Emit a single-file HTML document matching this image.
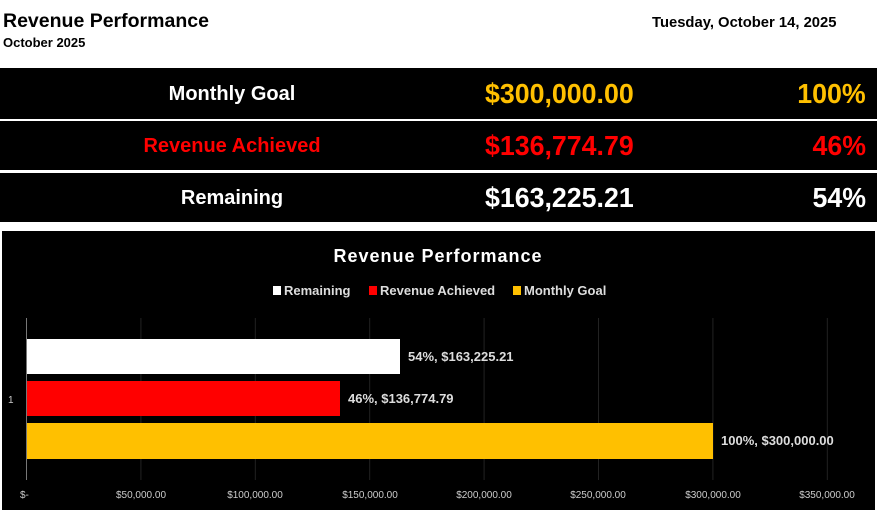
<!DOCTYPE html>
<html><head><style>
body{margin:0;width:877px;height:513px;background:#fff;position:relative;overflow:hidden;font-family:"Liberation Sans",Arial,sans-serif}
.a{position:absolute;white-space:nowrap;font-weight:bold}
.v{transform:scaleX(0.955);transform-origin:right center}
.row{position:absolute;left:0;width:877px;background:#000}
</style></head><body>
<div class="a" style="left:3px;top:10px;font-size:19.5px">Revenue Performance</div>
<div class="a" style="left:3px;top:35px;font-size:13px">October 2025</div>
<div class="a" style="left:652px;top:15px;font-size:14.8px">Tuesday, October 14, 2025</div>

<div class="row" style="top:68px;height:51px"></div>
<div class="row" style="top:121px;height:49px"></div>
<div class="row" style="top:173px;height:49px"></div>

<div class="a" style="left:132px;width:200px;text-align:center;top:83px;font-size:20px;color:#fff">Monthly Goal</div>
<div class="a v" style="right:243px;top:78px;font-size:28px;color:#ffc000">$300,000.00</div>
<div class="a v" style="right:11px;top:78px;font-size:28px;color:#ffc000">100%</div>

<div class="a" style="left:132px;width:200px;text-align:center;top:135px;font-size:20px;color:#f00">Revenue Achieved</div>
<div class="a v" style="right:243px;top:130px;font-size:28px;color:#f00">$136,774.79</div>
<div class="a v" style="right:11px;top:130px;font-size:28px;color:#f00">46%</div>

<div class="a" style="left:132px;width:200px;text-align:center;top:187px;font-size:20px;color:#fff">Remaining</div>
<div class="a v" style="right:243px;top:182px;font-size:28px;color:#fff">$163,225.21</div>
<div class="a v" style="right:11px;top:182px;font-size:28px;color:#fff">54%</div>

<svg style="position:absolute;left:0;top:0" width="877" height="513">
<rect x="2" y="231" width="873" height="279" fill="#000"/>
<text x="438" y="262" fill="#fff" font-size="18" font-weight="bold" text-anchor="middle" letter-spacing="1" font-family="Liberation Sans,sans-serif">Revenue Performance</text>
<g font-family="Liberation Sans,sans-serif" font-size="13" fill="#ddd" font-weight="bold">
<rect x="273" y="286" width="8" height="9" fill="#fff"/><text x="284" y="295">Remaining</text>
<rect x="369" y="286" width="8" height="9" fill="#f00"/><text x="380" y="295">Revenue Achieved</text>
<rect x="513" y="286" width="8" height="9" fill="#ffc000"/><text x="524" y="295">Monthly Goal</text>
</g>
<g stroke="#222" stroke-width="1">
<line x1="140.9" y1="318" x2="140.9" y2="480"/><line x1="255.3" y1="318" x2="255.3" y2="480"/>
<line x1="369.7" y1="318" x2="369.7" y2="480"/><line x1="484.1" y1="318" x2="484.1" y2="480"/>
<line x1="598.5" y1="318" x2="598.5" y2="480"/><line x1="712.9" y1="318" x2="712.9" y2="480"/>
<line x1="827.3" y1="318" x2="827.3" y2="480"/>
</g>
<line x1="26.5" y1="318" x2="26.5" y2="480" stroke="#777"/>
<rect x="27" y="339" width="373" height="35" fill="#fff"/>
<rect x="27" y="381" width="313" height="35" fill="#f00"/>
<rect x="27" y="423" width="686" height="36" fill="#ffc000"/>
<g font-family="Liberation Sans,sans-serif" font-size="13" fill="#ddd" font-weight="bold">
<text x="408" y="361">54%,  $163,225.21</text>
<text x="348" y="403">46%,  $136,774.79</text>
<text x="721" y="445">100%,  $300,000.00</text>
</g>
<text x="8" y="403" font-family="Liberation Sans,sans-serif" font-size="10" fill="#ccc">1</text>
<g font-family="Liberation Sans,sans-serif" font-size="10" fill="#ccc" text-anchor="middle">
<text x="20" y="498" text-anchor="start">$-</text>
<text x="141" y="498">$50,000.00</text><text x="255" y="498">$100,000.00</text>
<text x="370" y="498">$150,000.00</text><text x="484" y="498">$200,000.00</text>
<text x="598" y="498">$250,000.00</text><text x="713" y="498">$300,000.00</text>
<text x="827" y="498">$350,000.00</text>
</g>
</svg>
</body></html>
